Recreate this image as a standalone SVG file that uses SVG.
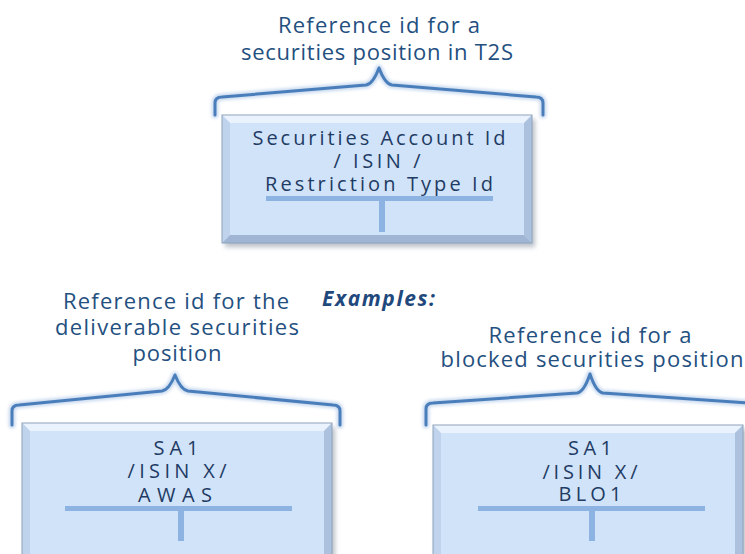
<svg xmlns="http://www.w3.org/2000/svg" width="745" height="554" viewBox="0 0 745 554">
<defs>
<style>
.lbl{font-family:"Open Sans","Liberation Sans",Arial,sans-serif;font-size:22px;fill:#24507f;text-anchor:middle}
.btx{font-family:"Open Sans","Liberation Sans",Arial,sans-serif;font-size:20px;fill:#1f3b63;text-anchor:middle}
.ex{font-family:"Open Sans","Liberation Sans",Arial,sans-serif;font-size:21px;font-weight:bold;font-style:italic;fill:#1f497d}
.brace{fill:none;stroke:#4a7ebb;stroke-width:3;stroke-linejoin:round;stroke-linecap:round}
.glow{fill:none;stroke:#a9c4e6;stroke-width:7;stroke-linejoin:round;stroke-linecap:round;opacity:0.6;filter:url(#blur)}
.face{fill:#d0e3f9}
.btop{fill:#eaf3fd}
.bleft{fill:#bfd3ed}
.bright{fill:#abc1de}
.bbot{fill:#a0b5d3}
.edge{fill:none;stroke:#8fa3bd;stroke-width:1}
.bar{fill:#8db3e2}
</style>
<filter id="blur" x="-10%" y="-50%" width="120%" height="200%"><feGaussianBlur stdDeviation="1.5"/></filter>
<filter id="shadow" x="-10%" y="-10%" width="130%" height="130%"><feGaussianBlur stdDeviation="2.5"/></filter>
</defs>

<text class="ex" x="322" y="306" textLength="113">Examples:</text>

<g id="node-top">
<text class="lbl" x="379" y="33" textLength="202">Reference id for a</text>
<text class="lbl" x="377" y="60" textLength="272">securities position in T2S</text>
<path class="glow" d="M215,115 L215,103 Q215,97 222,97 L366,85 Q373,84 379,68 Q385,84 392,85 L536,97 Q543,97 543,103 L543,115"/>
<path class="brace" d="M215,115 L215,103 Q215,97 222,97 L366,85 Q373,84 379,68 Q385,84 392,85 L536,97 Q543,97 543,103 L543,115"/>
<rect x="225" y="119" width="310" height="128" fill="#7f8a99" opacity="0.55" filter="url(#shadow)"/>
<rect class="face" x="222" y="115" width="310" height="128"/>
<polygon class="btop" points="222,115 532,115 524,123 230,123"/>
<polygon class="bleft" points="222,115 230,123 230,235 222,243"/>
<polygon class="bright" points="532,115 532,243 524,235 524,123"/>
<polygon class="bbot" points="222,243 230,235 524,235 532,243"/>
<rect class="edge" x="222" y="115" width="310" height="128"/>
<text class="btx" x="379" y="145" textLength="253">Securities Account Id</text>
<text class="btx" x="377" y="168" textLength="87">/ ISIN /</text>
<text class="btx" x="379" y="191" textLength="228">Restriction Type Id</text>
<rect class="bar" x="266" y="196" width="227" height="5"/>
<rect class="bar" x="379" y="201" width="6" height="31"/>
</g>

<g id="node-deliverable">
<text class="lbl" x="176" y="309" textLength="226">Reference id for the</text>
<text class="lbl" x="177" y="335" textLength="244">deliverable securities</text>
<text class="lbl" x="177" y="361" textLength="89">position</text>
<path class="glow" d="M12,425 L12,411 Q12,405 19,405 L162,391 Q169,390 175,375 Q181,390 188,391 L333,405 Q340,405 340,411 L340,425"/>
<path class="brace" d="M12,425 L12,411 Q12,405 19,405 L162,391 Q169,390 175,375 Q181,390 188,391 L333,405 Q340,405 340,411 L340,425"/>
<rect x="25" y="427" width="310" height="140" fill="#7f8a99" opacity="0.55" filter="url(#shadow)"/>
<rect class="face" x="22" y="423" width="310" height="140"/>
<polygon class="btop" points="22,423 332,423 324,431 30,431"/>
<polygon class="bleft" points="22,423 30,431 30,563 22,563"/>
<polygon class="bright" points="332,423 332,563 324,563 324,431"/>
<rect class="edge" x="22" y="423" width="310" height="140"/>
<text class="btx" x="176" y="455" textLength="45">SA1</text>
<text class="btx" x="177" y="478" textLength="99">/ISIN X/</text>
<text class="btx" x="175" y="502" textLength="74">AWAS</text>
<rect class="bar" x="65" y="506" width="227" height="5"/>
<rect class="bar" x="178" y="511" width="6" height="30"/>
</g>

<g id="node-blocked">
<text class="lbl" x="590" y="343" textLength="203">Reference id for a</text>
<text class="lbl" x="592" y="367" textLength="303">blocked securities position</text>
<path class="glow" d="M426,425 L426,409 Q426,403 433,403 L577,393 Q584,392 590,374 Q596,392 603,393 L747,403 Q754,403 754,409 L754,425"/>
<path class="brace" d="M426,425 L426,409 Q426,403 433,403 L577,393 Q584,392 590,374 Q596,392 603,393 L747,403 Q754,403 754,409 L754,425"/>
<rect x="436" y="429" width="310" height="140" fill="#7f8a99" opacity="0.55" filter="url(#shadow)"/>
<rect class="face" x="433" y="425" width="310" height="140"/>
<polygon class="btop" points="433,425 743,425 735,433 441,433"/>
<polygon class="bleft" points="433,425 441,433 441,565 433,565"/>
<polygon class="bright" points="743,425 743,565 735,565 735,433"/>
<rect class="edge" x="433" y="425" width="310" height="140"/>
<text class="btx" x="590" y="455" textLength="44">SA1</text>
<text class="btx" x="590" y="479" textLength="95">/ISIN X/</text>
<text class="btx" x="590" y="501" textLength="63">BLO1</text>
<rect class="bar" x="478" y="506" width="227" height="5"/>
<rect class="bar" x="589" y="511" width="6" height="30"/>
</g>

<g id="connectors"></g>
</svg>
